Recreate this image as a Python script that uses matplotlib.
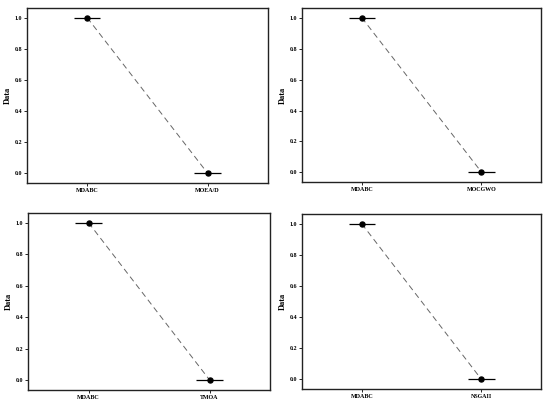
import matplotlib
matplotlib.use("Agg")
import matplotlib.pyplot as plt

base_name = "MDABC"
rivals = ["MOEA/D", "MOCGWO", "TMOA", "NSGAII"]
base_values = [1.0, 1.0, 1.0, 1.0]
rival_values = [0.0, 0.003, 0.003, 0.0]
y_ticks = [0.0, 0.2, 0.4, 0.6, 0.8, 1.0]

plt.rcParams['font.family'] = ['Liberation Serif', 'DejaVu Serif']
plt.rcParams['font.weight'] = 'bold'

fig = plt.figure(figsize=(5.5, 4.01), dpi=100)
positions = [
    [0.049, 0.544, 0.438, 0.436],
    [0.549, 0.546, 0.435, 0.434],
    [0.051, 0.027, 0.440, 0.442],
    [0.549, 0.030, 0.435, 0.436],
]

for pos, rival, bv, rv in zip(positions, rivals, base_values, rival_values):
    ax = fig.add_axes(pos)
    xs = [0, 1]
    ys = [bv, rv]
    ax.plot(xs, ys, linestyle=(0, (6, 4)), color='#666666', linewidth=0.7, zorder=1)
    for x, y in zip(xs, ys):
        ax.hlines(y, x - 0.11, x + 0.11, color='black', linewidth=0.9, zorder=2)
    ax.plot(xs, ys, 'o', color='black', markersize=3.6, zorder=3)
    ax.set_xlim(-0.5, 1.5)
    ax.set_ylim(-0.062, 1.062)
    ax.set_xticks(xs)
    ax.set_xticklabels([base_name, rival], fontsize=4.3, fontweight='bold')
    ax.set_yticks(y_ticks)
    ax.set_yticklabels([f"{t:.1f}" for t in y_ticks], fontsize=4.3, fontweight='bold')
    ax.set_ylabel("Data", fontsize=6, fontweight='bold', labelpad=2)
    ax.tick_params(axis='both', length=2, width=0.6, pad=1.5, color='black')
    for s in ax.spines.values():
        s.set_linewidth(1.0)
        s.set_color('#222222')

fig.savefig("out.png", dpi=100)
